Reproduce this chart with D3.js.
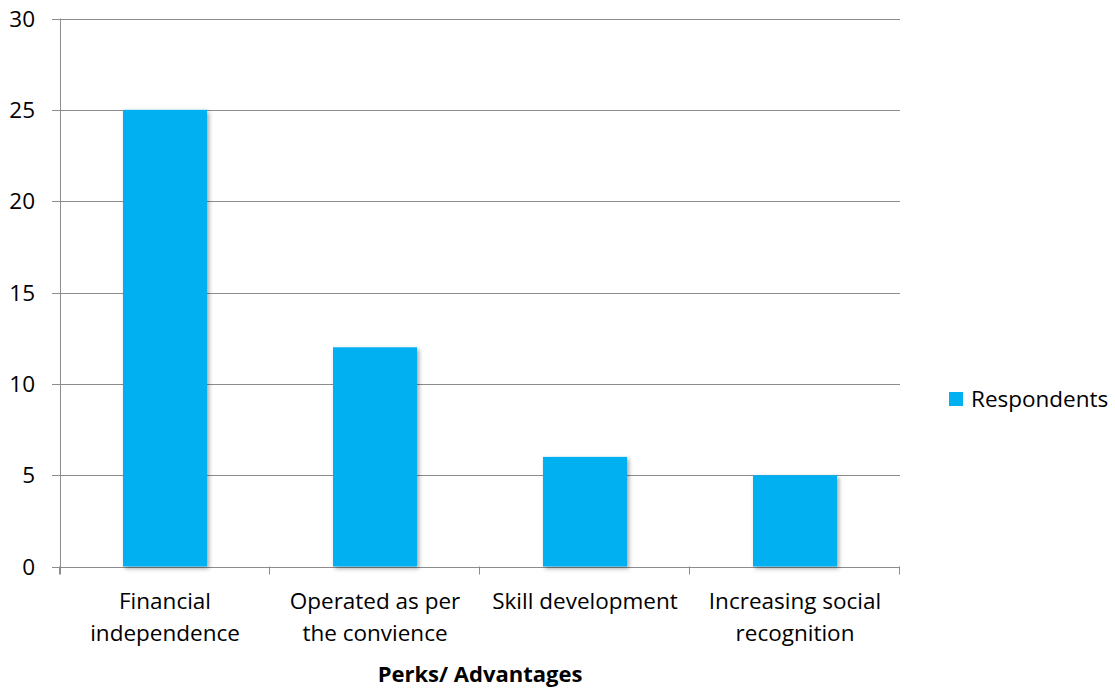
<!DOCTYPE html>
<html><head><meta charset="utf-8">
<script src="https://cdn.jsdelivr.net/npm/d3@7"></script>
<style>body{margin:0;background:#fff}svg{display:block}text{font-family:"Open Sans",sans-serif;fill:#000}</style>
</head><body>
<svg id="c" width="1115" height="688"></svg>
<script>
const categories = [["Financial","independence"],["Operated as per","the convience"],["Skill development"],["Increasing social","recognition"]];
const values = [25, 12, 6, 5];
const yTicks = [0,5,10,15,20,25,30];
const seriesName = "Respondents";
const axisTitle = "Perks/ Advantages";

const svg = d3.select("#c");
const L=60, R=900, T=18.5, B=566.5;
const x = d3.scaleBand().domain(d3.range(categories.length)).range([L,R]).paddingInner(0.6).paddingOuter(0.3);
const xb = d3.scaleBand().domain(d3.range(categories.length)).range([L,R]);
const y = d3.scaleLinear().domain([0,30]).range([B,T]);
const grid="#8c8c8c";
const fs="22.5px";

const defs = svg.append("defs");
const f = defs.append("filter").attr("id","sh").attr("x","-20%").attr("y","-5%").attr("width","150%").attr("height","115%");
f.append("feDropShadow").attr("dx",2).attr("dy",2).attr("stdDeviation",2).attr("flood-color","#000").attr("flood-opacity",0.35);

svg.append("g").selectAll("line").data(yTicks).join("line")
  .attr("x1",52).attr("x2",R).attr("y1",d=>Math.round(y(d))+0.5).attr("y2",d=>Math.round(y(d))+0.5)
  .attr("stroke",grid).attr("stroke-width",1);
svg.append("line").attr("x1",L+0.5).attr("x2",L+0.5).attr("y1",T).attr("y2",B+8).attr("stroke",grid);
svg.append("g").selectAll("line").data(d3.range(categories.length+1)).join("line")
  .attr("x1",d=>Math.round(L+d*xb.bandwidth())-0.5).attr("x2",d=>Math.round(L+d*xb.bandwidth())-0.5)
  .attr("y1",B).attr("y2",B+8).attr("stroke",grid);
svg.append("g").selectAll("text").data(yTicks).join("text")
  .attr("x",35).attr("y",d=>y(d)+8).attr("text-anchor","end")
  .style("font-size",fs).text(d=>d);
svg.append("g").selectAll("rect").data(values).join("rect")
  .attr("x",(d,i)=>x(i)).attr("width",x.bandwidth())
  .attr("y",d=>y(d)).attr("height",d=>B-y(d))
  .attr("fill","#00b0f0").attr("filter","url(#sh)");
const cl = svg.append("g").selectAll("text").data(categories).join("text")
  .attr("text-anchor","middle").style("font-size",fs)
  .attr("transform",(d,i)=>`translate(${xb(i)+xb.bandwidth()/2},609)`);
cl.selectAll("tspan").data(d=>d).join("tspan").attr("x",0).attr("y",(d,i)=>i*31.5).text(d=>d);
svg.append("text").attr("x",(L+R)/2).attr("y",682).attr("text-anchor","middle")
  .style("font-size","22px").style("font-weight","bold").text(axisTitle);
svg.append("rect").attr("x",949).attr("y",392).attr("width",14).attr("height",14).attr("fill","#00b0f0");
svg.append("text").attr("x",971).attr("y",407).style("font-size",fs).text(seriesName);
</script>
</body></html>
